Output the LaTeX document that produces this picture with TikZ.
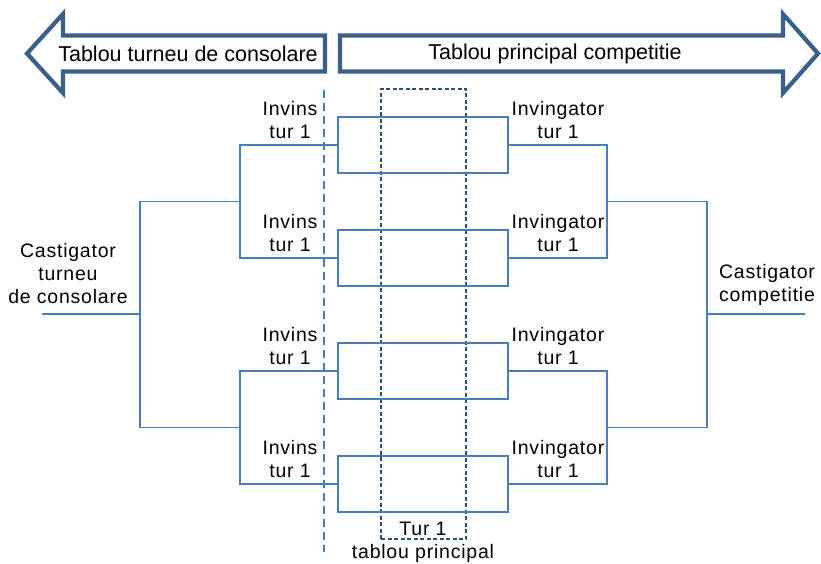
\documentclass[tikz,border=0pt]{standalone}
\usepackage{fontspec}
\setmainfont{Liberation Sans}
\definecolor{brk}{HTML}{4A7EBB}
\definecolor{arw}{HTML}{3A5F8B}
\definecolor{drk}{HTML}{2C4D75}
\begin{document}
\begin{tikzpicture}[x=1pt,y=-1pt,
  brline/.style={draw=brk,line width=1.6pt},
  bigarrow/.style={draw=arw,line width=4.2pt,line join=miter},
  headtxt/.style={font=\fontsize{21.5}{25}\selectfont,inner sep=0pt},
  lbl/.style={font=\fontsize{19.5}{23}\selectfont\addfontfeature{LetterSpace=4},align=center,inner sep=0pt},
  matchbox/.style={draw=brk,line width=1.6pt,minimum width=170pt,minimum height=56pt,inner sep=0pt},
  roundbox/.style={draw=drk,line width=1.2pt,dash pattern=on 4pt off 2.5pt,minimum width=85pt,minimum height=450pt,inner sep=0pt},
  sepline/.style={draw=brk,line width=1.4pt,dash pattern=on 8pt off 5pt}]
\useasboundingbox (0,0) rectangle (821,564);
% big arrows
\draw[bigarrow] (325,35.5) -- (63,35.5) -- (63,14) -- (27,53.5) -- (63,93) -- (63,71.5) -- (325,71.5) -- cycle;
\draw[bigarrow] (340,35.5) -- (783,35.5) -- (783,14) -- (818,53.5) -- (783,93) -- (783,71.5) -- (340,71.5) -- cycle;
\node[headtxt] (hl) at (188,53.5) {Tablou turneu de consolare};
\node[headtxt] (hr) at (555,53.5) {Tablou principal competitie};
% separators
\coordinate (sept) at (324,90);
\coordinate (sepb) at (324,552);
\draw[sepline] (sept) -- (sepb);
\node[roundbox] (tur) at (423.5,314) {};
% match boxes
\node[matchbox] (b1) at (423,145) {};
\node[matchbox] (b2) at (423,258) {};
\node[matchbox] (b3) at (423,371) {};
\node[matchbox] (b4) at (423,484) {};
% left bracket
\coordinate (cl1) at (240,201.5);
\coordinate (cl2) at (240,427.5);
\coordinate (cl0) at (140,314);
\coordinate (endl) at (42,314);
\draw[brline] (b1.west) -| (cl1);
\draw[brline] (b2.west) -| (cl1);
\draw[brline] (b3.west) -| (cl2);
\draw[brline] (b4.west) -| (cl2);
\draw[brline] (cl1) -| (cl0);
\draw[brline] (cl2) -| (cl0);
\draw[brline] (cl0) -- (endl);
% right bracket
\coordinate (cr1) at (607,201.5);
\coordinate (cr2) at (607,427.5);
\coordinate (cr0) at (707,314);
\coordinate (endr) at (805,314);
\draw[brline] (b1.east) -| (cr1);
\draw[brline] (b2.east) -| (cr1);
\draw[brline] (b3.east) -| (cr2);
\draw[brline] (b4.east) -| (cr2);
\draw[brline] (cr1) -| (cr0);
\draw[brline] (cr2) -| (cr0);
\draw[brline] (cr0) -- (endr);
% labels
\node[lbl] (li1) at (290,120) {Invins\\tur 1};
\node[lbl] (li2) at (290,233) {Invins\\tur 1};
\node[lbl] (li3) at (290,346) {Invins\\tur 1};
\node[lbl] (li4) at (290,459) {Invins\\tur 1};
\node[lbl] (ri1) at (558,120) {Invingator\\tur 1};
\node[lbl] (ri2) at (558,233) {Invingator\\tur 1};
\node[lbl] (ri3) at (558,346) {Invingator\\tur 1};
\node[lbl] (ri4) at (558,459) {Invingator\\tur 1};
\node[lbl] (cc) at (767,285) {Castigator\\competitie};
\node[lbl] (ct) at (68,274) {Castigator\\turneu\\de consolare};
\node[lbl] (t1) at (423,529) {Tur 1};
\node[lbl] (tp) at (423,553) {tablou principal};
\end{tikzpicture}
\end{document}
